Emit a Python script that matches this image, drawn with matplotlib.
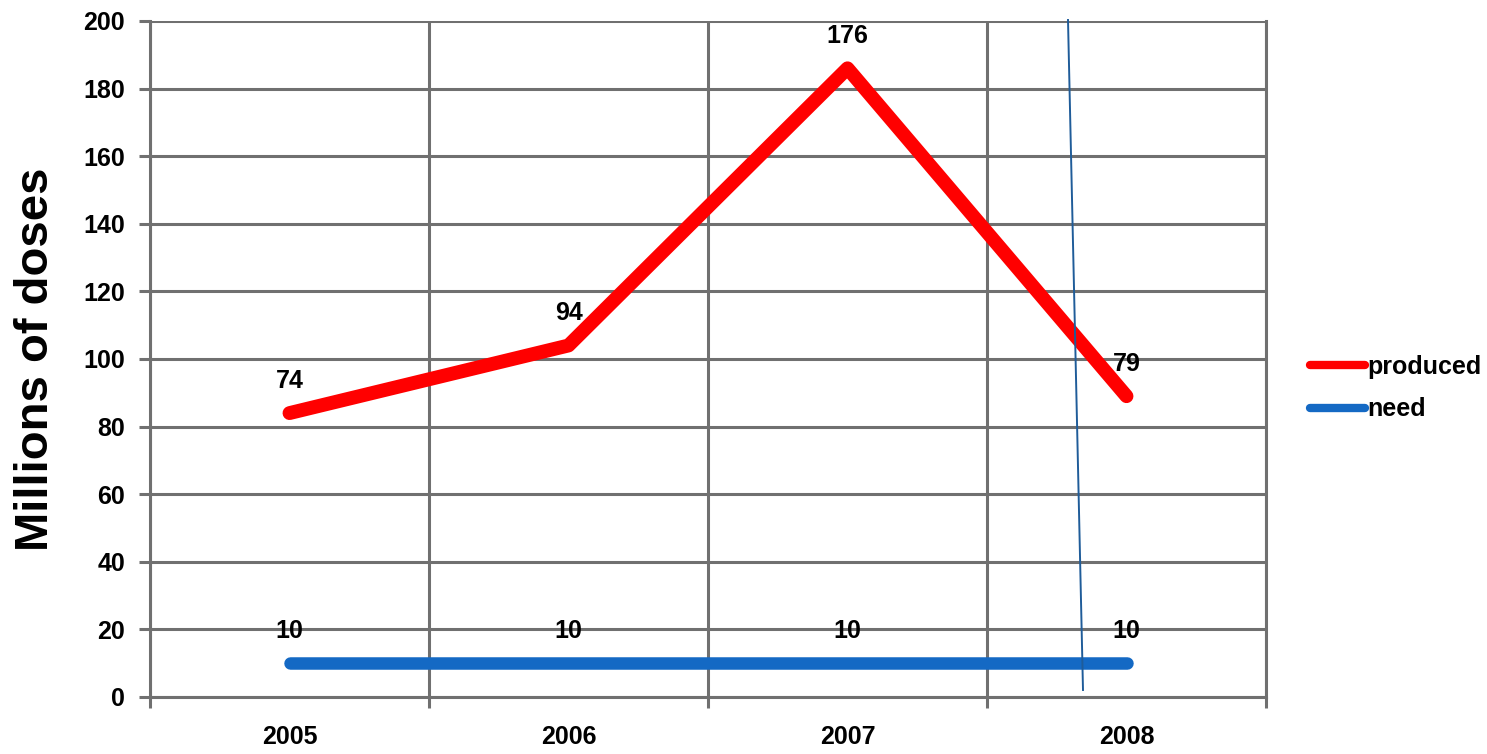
import matplotlib
matplotlib.use("Agg")
import matplotlib.pyplot as plt
import numpy as np

years = ["2005", "2006", "2007", "2008"]
need = [10, 10, 10, 10]
produced = [74, 94, 176, 79]

plt.rcParams['font.family'] = ['Liberation Sans', 'DejaVu Sans']
plt.rcParams['font.weight'] = 'bold'

fig = plt.figure(figsize=(14.87, 7.54), dpi=100)
ax = fig.add_axes([150/1487, 1-697/754, (1266-150)/1487, (697-21)/754])

x = np.arange(len(years))
need_arr = np.array(need)
stacked = need_arr + np.array(produced)

grid_c = '#707070'
ax.set_xlim(-0.5, len(years) - 0.5)
ax.set_ylim(0, 200)
ax.set_yticks(np.arange(0, 201, 20))
ax.set_xticks(x)
ax.set_xticklabels(years)
ax.set_xticks(np.arange(-0.5, len(years), 1.0), minor=True)
ax.grid(True, axis='y', color=grid_c, linewidth=2.2)
ax.grid(True, axis='x', which='minor', color=grid_c, linewidth=2.2)
ax.set_axisbelow(True)
ax.spines['top'].set_visible(False)
for s in ['left', 'right', 'bottom']:
    ax.spines[s].set_color(grid_c)
    ax.spines[s].set_linewidth(2.2)

ax.tick_params(axis='y', direction='out', length=8, width=2.2, color=grid_c, labelsize=18, pad=10)
ax.tick_params(axis='x', which='major', length=0, labelsize=18, pad=20)
ax.tick_params(axis='x', which='minor', direction='out', length=8, width=2.2, color=grid_c)

ax.plot(x, stacked, color='#FF0000', linewidth=10, solid_capstyle='round', solid_joinstyle='round', label='produced', zorder=3)
ax.plot(x, need_arr, color='#1469C4', linewidth=9, solid_capstyle='round', label='need', zorder=3)

for xi, yi, v in zip(x, stacked, produced):
    ax.annotate(str(v), (xi, yi), xytext=(0, 32), textcoords='offset pixels',
                ha='center', va='center', fontsize=18, fontweight='bold', zorder=5)
for xi, yi, v in zip(x, need_arr, need):
    ax.annotate(str(v), (xi, yi), xytext=(0, 32), textcoords='offset pixels',
                ha='center', va='center', fontsize=18, fontweight='bold', zorder=5)

# stray thin line present in the source picture
ax.plot([(1068-150)/1116, (1083-150)/1116], [(697-20)/676, (697-690)/676],
        transform=ax.transAxes, color='#1F5C99', linewidth=1.4, zorder=4, clip_on=False)

ax.set_ylabel('Millions of doses', fontsize=34, fontweight='bold')
ax.yaxis.set_label_coords(-(150-58)/1116, 0.5)

leg = ax.legend(loc='center left', bbox_to_anchor=((1300-150)/1116, 1-(388-21)/676),
                frameon=False, fontsize=18, handlelength=2.2, handletextpad=0.1,
                labelspacing=0.75, borderaxespad=0)
for h in leg.get_lines():
    h.set_linewidth(6)

fig.savefig('out.png', dpi=100, facecolor='white')
